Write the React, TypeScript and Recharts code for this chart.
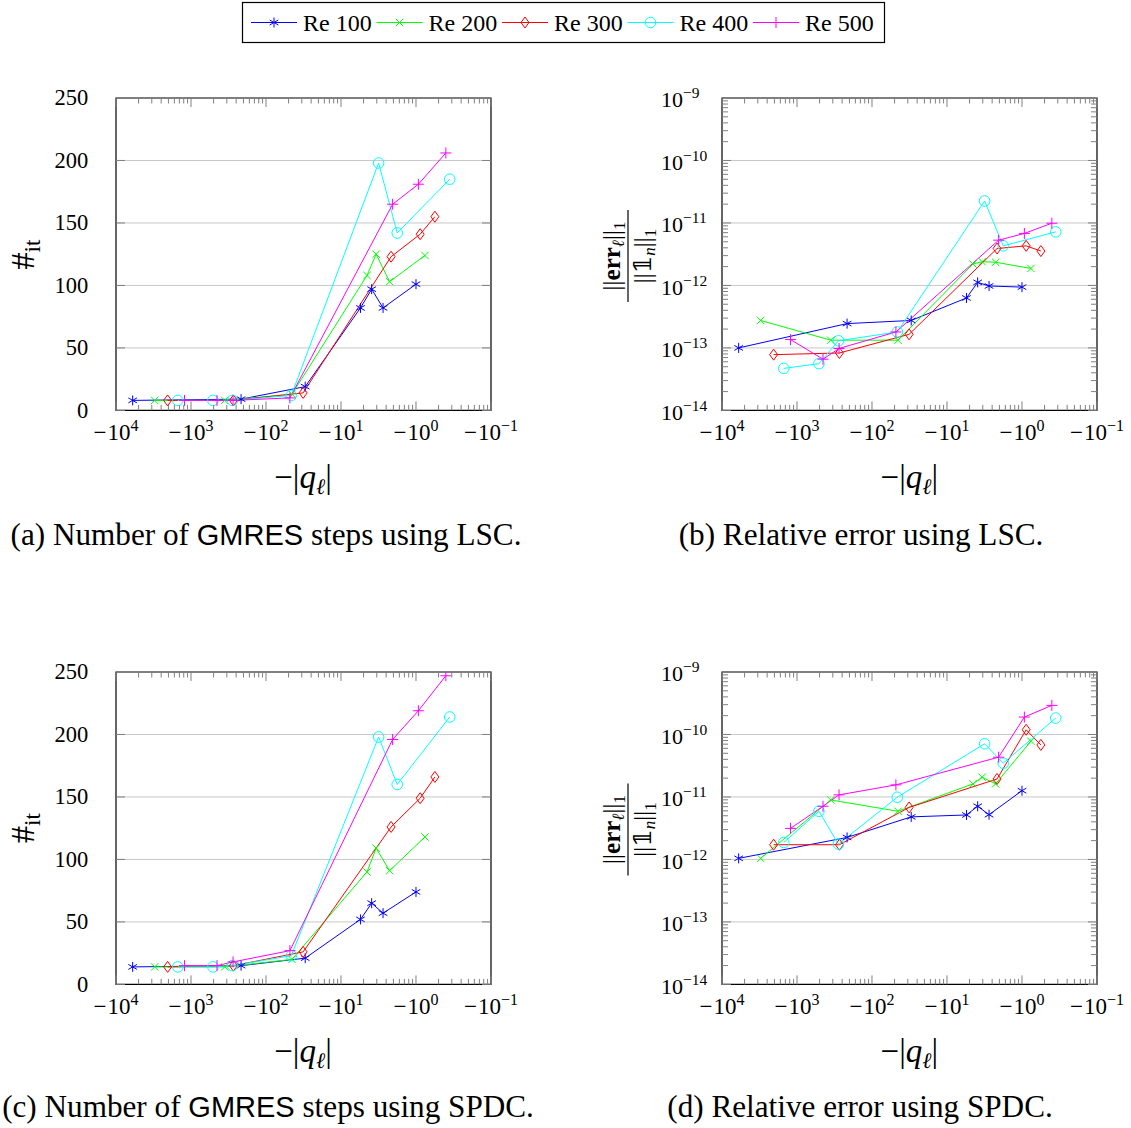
import React from 'react';
import { LineChart, Line, XAxis, YAxis, CartesianGrid, ReferenceArea } from 'recharts';

const seriesNames = ['Re 100', 'Re 200', 'Re 300', 'Re 400', 'Re 500'];
const seriesColors = ['#0000ff', '#00ff00', '#ff0000', '#00ffff', '#ff00ff'];
const seriesMarks = ['asterisk', 'cross', 'diamond', 'circle', 'plus'];

// shifts |q_l| per Reynolds number (axis shows -|q_l|)
const qRe100 = [6000, 215, 30, 5.5, 3.9, 2.75, 1.0];
const qRe200 = [3050, 355, 45, 4.5, 3.4, 2.25, 0.76];
const qRe300 = [2050, 272, 32, 2.15, 0.88, 0.56];
const qRe400 = [1500, 510, 280, 46, 3.15, 1.78, 0.355];
const qRe500 = [1220, 450, 275, 48, 2.05, 0.93, 0.4];

// (a) GMRES steps, LSC
const itLscRe100 = [8, 9, 19, 82, 97, 82, 101];
const itLscRe200 = [8, 8, 13, 108, 125, 103, 124];
const itLscRe300 = [8, 8, 14, 123, 141, 155];
const itLscRe400 = [8, 8, 8, 12, 198, 142, 185];
const itLscRe500 = [8, 8, 8, 10, 165, 181, 206];

// (b) relative error, LSC
const errLscRe100 = [1.0e-13, 2.45e-13, 2.75e-13, 6.3e-13, 1.12e-12, 9.8e-13, 9.4e-13];
const errLscRe200 = [2.75e-13, 1.33e-13, 1.33e-13, 2.2e-12, 2.4e-12, 2.35e-12, 1.87e-12];
const errLscRe300 = [7.8e-14, 8.3e-14, 1.65e-13, 3.9e-12, 4.3e-12, 3.55e-12];
const errLscRe400 = [4.7e-14, 5.6e-14, 1.3e-13, 1.8e-13, 2.25e-11, 4.3e-12, 7.2e-12];
const errLscRe500 = [1.36e-13, 6.6e-14, 9.8e-14, 1.8e-13, 5.3e-12, 6.8e-12, 9.9e-12];

// (c) GMRES steps, SPDC
const itSpdcRe100 = [14, 15, 21, 52, 65, 57, 74];
const itSpdcRe200 = [14, 14, 20, 90, 109, 91, 118];
const itSpdcRe300 = [14, 15, 26, 126, 149, 166];
const itSpdcRe400 = [14, 14, 15, 23, 198, 160, 214];
const itSpdcRe500 = [15, 15, 18, 27, 196, 219, 247];

// (d) relative error, SPDC
const errSpdcRe100 = [1.04e-12, 2.25e-12, 4.8e-12, 5.15e-12, 7.1e-12, 5.2e-12, 1.26e-11];
const errSpdcRe200 = [1.04e-12, 8.95e-12, 5.9e-12, 1.62e-11, 2.07e-11, 1.62e-11, 7.8e-11];
const errSpdcRe300 = [1.72e-12, 1.72e-12, 6.8e-12, 1.94e-11, 1.19e-10, 6.8e-11];
const errSpdcRe400 = [1.87e-12, 5.9e-12, 1.76e-12, 9.9e-12, 7.1e-11, 3.47e-11, 1.83e-10];
const errSpdcRe500 = [3.14e-12, 7.1e-12, 1.08e-11, 1.56e-11, 4.33e-11, 1.9e-10, 2.92e-10];

const qSeries = [qRe100, qRe200, qRe300, qRe400, qRe500];

// ticks
const xMajorTicks = [10000, 1000, 100, 10, 1, 0.1];
const xMinorTicks = [4, 3, 2, 1, 0].flatMap((e) => [2, 3, 4, 5, 6, 7, 8, 9].map((k) => Math.pow(10, e) / k));
const itTicks = [0, 50, 100, 150, 200, 250];
const errMajorTicks = [1e-14, 1e-13, 1e-12, 1e-11, 1e-10, 1e-9];
const errMinorTicks = [-14, -13, -12, -11, -10].flatMap((e) => [2, 3, 4, 5, 6, 7, 8, 9].map((k) => k * Math.pow(10, e)));

const FONT = '"Liberation Serif", "DejaVu Serif", serif';
const TICK = '#808080';
const GRID = '#c8c8c8';

const BOX_W = 375;
const BOX_H = 312.4;
const PAD_L = 120;
const PAD_T = 20;
const PAD_R = 32;
const PAD_B = 44;
const Y_AXIS_W = 50;
const X_AXIS_H = 30;

const isMajorLog = (v: number) => Math.abs(Math.log10(v) - Math.round(Math.log10(v))) < 1e-6;
const minus = (n: number) => (n < 0 ? '\u2212' + Math.abs(n) : String(n));

const renderXTick = (props: any) => {
  const { x, y, payload, index } = props;
  const v = payload.value;
  const major = isMajorLog(v);
  const len = major ? 9 : 5.5;
  const top = y - BOX_H;
  return (
    <g key={`xt-${index}`}>
      <line x1={x} x2={x} y1={y} y2={y - len} stroke={TICK} strokeWidth={1} />
      <line x1={x} x2={x} y1={top} y2={top + len} stroke={TICK} strokeWidth={1} />
      {major && (
        <text x={x} y={y + 30} textAnchor="middle" fontFamily={FONT} fontSize={23} fill="#000">
          {'\u2212'}
          <tspan dx={1}>10</tspan>
          <tspan dy={-9.5} fontSize={16}>{minus(Math.round(Math.log10(v)))}</tspan>
        </text>
      )}
    </g>
  );
};

const renderLinYTick = (props: any) => {
  const { x, y, payload, index } = props;
  return (
    <g key={`yt-${index}`}>
      <line x1={x} x2={x + 9} y1={y} y2={y} stroke={TICK} strokeWidth={1} />
      <line x1={x + BOX_W} x2={x + BOX_W - 9} y1={y} y2={y} stroke={TICK} strokeWidth={1} />
      <text x={x - 27.7} y={y + 7.5} textAnchor="end" fontFamily={FONT} fontSize={22.5} fill="#000">
        {payload.value}
      </text>
    </g>
  );
};

const renderLogYTick = (props: any) => {
  const { x, y, payload, index } = props;
  const v = payload.value;
  const major = isMajorLog(v);
  const len = major ? 9 : 6;
  return (
    <g key={`yl-${index}`}>
      <line x1={x} x2={x + len} y1={y} y2={y} stroke={TICK} strokeWidth={1} />
      <line x1={x + BOX_W} x2={x + BOX_W - len} y1={y} y2={y} stroke={TICK} strokeWidth={1} />
      {major && (
        <text x={x - 61} y={y + 9.5} textAnchor="start" fontFamily={FONT} fontSize={22} fill="#000">
          10
          <tspan dy={-9} fontSize={15.5}>{minus(Math.round(Math.log10(v)))}</tspan>
        </text>
      )}
    </g>
  );
};

const renderMark = (kind: string, color: string) => (p: any) => {
  const { cx, cy, index } = p;
  const k = `m-${kind}-${index}`;
  if (cx == null || cy == null) return <g key={k} />;
  const s = { stroke: color, strokeWidth: 1, fill: 'none' };
  if (kind === 'asterisk') {
    return (
      <g key={k} {...s}>
        <line x1={cx} y1={cy - 5} x2={cx} y2={cy + 5} />
        <line x1={cx - 4.3} y1={cy - 2.5} x2={cx + 4.3} y2={cy + 2.5} />
        <line x1={cx - 4.3} y1={cy + 2.5} x2={cx + 4.3} y2={cy - 2.5} />
      </g>
    );
  }
  if (kind === 'cross') {
    return (
      <g key={k} {...s}>
        <line x1={cx - 3.7} y1={cy - 3.7} x2={cx + 3.7} y2={cy + 3.7} />
        <line x1={cx - 3.7} y1={cy + 3.7} x2={cx + 3.7} y2={cy - 3.7} />
      </g>
    );
  }
  if (kind === 'diamond') {
    return <polygon key={k} {...s} points={`${cx},${cy - 5.5} ${cx + 4},${cy} ${cx},${cy + 5.5} ${cx - 4},${cy}`} />;
  }
  if (kind === 'circle') {
    return <circle key={k} {...s} cx={cx} cy={cy} r={5.3} />;
  }
  return (
    <g key={k} {...s}>
      <line x1={cx - 5.5} y1={cy} x2={cx + 5.5} y2={cy} />
      <line x1={cx} y1={cy - 5.5} x2={cx} y2={cy + 5.5} />
    </g>
  );
};

type PanelProps = { left: number; top: number; values: number[][]; logY: boolean };

const Panel = ({ left, top, values, logY }: PanelProps) => {
  const yDomain = logY ? [1e-14, 1e-9] : [0, 250];
  return (
    <div style={{ position: 'absolute', left: left - PAD_L, top: top - PAD_T }}>
      <LineChart
        width={BOX_W + PAD_L + PAD_R}
        height={BOX_H + PAD_T + PAD_B}
        margin={{ top: PAD_T, right: PAD_R, bottom: PAD_B - X_AXIS_H, left: PAD_L - Y_AXIS_W }}
      >
        <CartesianGrid
          vertical={false}
          horizontalValues={logY ? [1e-13, 1e-12, 1e-11, 1e-10] : [50, 100, 150, 200]}
          stroke={GRID}
          strokeWidth={1}
        />
        <XAxis
          type="number"
          dataKey="q"
          scale="log"
          domain={[0.1, 10000]}
          reversed
          allowDataOverflow
          ticks={[...xMajorTicks, ...xMinorTicks]}
          interval={0}
          tickSize={0}
          tickMargin={0}
          axisLine={false}
          tickLine={false}
          tick={renderXTick}
          height={X_AXIS_H}
        />
        <YAxis
          type="number"
          scale={logY ? 'log' : 'linear'}
          domain={yDomain}
          allowDataOverflow
          ticks={logY ? [...errMajorTicks, ...errMinorTicks] : itTicks}
          interval={0}
          tickSize={0}
          tickMargin={0}
          axisLine={false}
          tickLine={false}
          tick={logY ? renderLogYTick : renderLinYTick}
          width={Y_AXIS_W}
        />
        {values.map((vals, i) => (
          <Line
            key={seriesNames[i]}
            name={seriesNames[i]}
            data={qSeries[i].map((q, j) => ({ q, v: vals[j] }))}
            dataKey="v"
            type="linear"
            stroke={seriesColors[i]}
            strokeWidth={1}
            dot={renderMark(seriesMarks[i], seriesColors[i])}
            activeDot={false}
            isAnimationActive={false}
          />
        ))}
        <ReferenceArea
          x1={0.1}
          x2={10000}
          y1={yDomain[0]}
          y2={yDomain[1]}
          fill="none"
          fillOpacity={0}
          stroke="#000"
          strokeWidth={1.2}
          ifOverflow="visible"
        />
      </LineChart>
    </div>
  );
};

const LegendMark = ({ kind, color, cx, cy }: { kind: string; color: string; cx: number; cy: number }) =>
  renderMark(kind, color)({ cx, cy, index: 0 });

const XTitle = ({ cx, y }: { cx: number; y: number }) => (
  <text x={cx} y={y} textAnchor="middle" fontFamily={FONT} fontSize={33}>
    {'\u2212|'}
    <tspan fontStyle="italic">q</tspan>
    <tspan fontSize={22} dy={6} fontStyle="italic">{'\u2113'}</tspan>
    <tspan dy={-6}>|</tspan>
  </text>
);

const ItTitle = ({ cx, cy }: { cx: number; cy: number }) => (
  <g transform={`translate(${cx},${cy}) rotate(-90)`}>
    <text x={0} y={11} textAnchor="middle" fontFamily={FONT} fontSize={34}>
      #<tspan fontSize={23} dy={6}>it</tspan>
    </text>
  </g>
);

const ErrTitle = ({ cx, cy }: { cx: number; cy: number }) => (
  <g transform={`translate(${cx},${cy}) rotate(-90)`} fontFamily={FONT}>
    <text x={0} y={-8} textAnchor="middle" fontSize={25}>
      ||<tspan fontWeight="bold">err</tspan>
      <tspan fontSize={17} dy={4} fontStyle="italic">{'\u2113'}</tspan>
      <tspan dy={-4}>||</tspan>
      <tspan fontSize={17} dy={5}>1</tspan>
    </text>
    <line x1={-46} x2={46} y1={0} y2={0} stroke="#000" strokeWidth={1.2} />
    <text x={0} y={23} textAnchor="middle" fontSize={25}>
      ||<tspan fontFamily='"DejaVu Serif", "DejaVu Sans", serif'>{'\u{1D7D9}'}</tspan>
      <tspan fontSize={17} dy={4} fontStyle="italic">n</tspan>
      <tspan dy={-4}>||</tspan>
      <tspan fontSize={17} dy={5}>1</tspan>
    </text>
  </g>
);

const Caption = ({ cx, y, label, pre, sans, post }: { cx: number; y: number; label: string; pre: string; sans?: string; post: string }) => (
  <text x={cx} y={y} textAnchor="middle" fontFamily={FONT} fontSize={31.2}>
    {label} {pre}
    {sans && <tspan fontFamily='"Liberation Sans", sans-serif' fontSize={29}>{sans}</tspan>}
    {post}
  </text>
);

export default function App() {
  return (
    <div style={{ position: 'absolute', left: 0, top: 0, width: 1131, height: 1128, overflow: 'hidden', background: '#fff' }}>
      <Panel left={115.7} top={98.3} logY={false} values={[itLscRe100, itLscRe200, itLscRe300, itLscRe400, itLscRe500]} />
      <Panel left={721.7} top={98.3} logY values={[errLscRe100, errLscRe200, errLscRe300, errLscRe400, errLscRe500]} />
      <Panel left={115.7} top={672} logY={false} values={[itSpdcRe100, itSpdcRe200, itSpdcRe300, itSpdcRe400, itSpdcRe500]} />
      <Panel left={721.7} top={672} logY values={[errSpdcRe100, errSpdcRe200, errSpdcRe300, errSpdcRe400, errSpdcRe500]} />
      <svg width={1131} height={1128} style={{ position: 'absolute', left: 0, top: 0, pointerEvents: 'none' }}>
        <rect x={242.5} y={2.5} width={642} height={40} fill="#fff" stroke="#000" strokeWidth={1.2} />
        {seriesNames.map((name, i) => {
          const x0 = 251 + i * 125.5;
          return (
            <g key={name}>
              <line x1={x0} x2={x0 + 46} y1={22.5} y2={22.5} stroke={seriesColors[i]} strokeWidth={1} />
              <LegendMark kind={seriesMarks[i]} color={seriesColors[i]} cx={x0 + 23} cy={22.5} />
              <text x={x0 + 52} y={30.5} fontFamily={FONT} fontSize={24}>{name}</text>
            </g>
          );
        })}
        <XTitle cx={303} y={488} />
        <XTitle cx={909.3} y={488} />
        <XTitle cx={303} y={1061.5} />
        <XTitle cx={909.3} y={1061.5} />
        <ItTitle cx={23} cy={254.5} />
        <ItTitle cx={23} cy={828} />
        <ErrTitle cx={628} cy={256} />
        <ErrTitle cx={628} cy={829.5} />
        <Caption cx={266} y={545} label="(a)" pre="Number of " sans="GMRES" post=" steps using LSC." />
        <Caption cx={861} y={545} label="(b)" pre="Relative error using LSC." post="" />
        <Caption cx={268} y={1117} label="(c)" pre="Number of " sans="GMRES" post=" steps using SPDC." />
        <Caption cx={860} y={1117} label="(d)" pre="Relative error using SPDC." post="" />
      </svg>
    </div>
  );
}
